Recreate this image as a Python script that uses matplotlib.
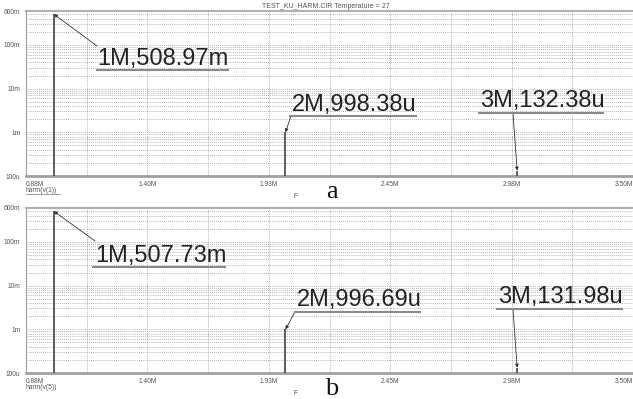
import matplotlib.pyplot as plt
import numpy as np
from matplotlib.lines import Line2D
from matplotlib.ticker import LogLocator, NullFormatter

freq = [1e6, 2e6, 3e6]
mag_a = [508.97e-3, 998.38e-6, 132.38e-6]
mag_b = [507.73e-3, 996.69e-6, 131.98e-6]
labels_a = ['1M,508.97m', '2M,998.38u', '3M,132.38u']
labels_b = ['1M,507.73m', '2M,996.69u', '3M,131.98u']
xtick_labels = ['0.88M', '1.40M', '1.93M', '2.45M', '2.98M', '3.50M']
ytick_vals = [100e-6, 1e-3, 10e-3, 100e-3, 600e-3]
ytick_labels = ['100u', '1m', '10m', '100m', '600m']
trace_names = ['harm(v(1))', 'harm(v(5))']
panel_names = ['a', 'b']
title = 'TEST_KU_HARM.CIR Temperature = 27'

x_lo, x_hi = 0.88e6, 3.5e6
y_lo, y_hi = 100e-6, 600e-3

W, H = 633, 399
fig = plt.figure(figsize=(W / 100, H / 100), dpi=100)
plt.rcParams['font.family'] = ['Liberation Sans', 'DejaVu Sans']

# panel boxes in pixels: left, top, right, bottom
boxes = [(26, 11, 633, 176), (26, 208, 633, 373)]
# annotation layout per panel: text x, baseline y, underline x0, x1, y, arrow start x, y
notes = [
    [(97, 65, 97, 228, 70, 97, 46),
     (292, 111, 290, 416, 116, 291, 116),
     (480, 107, 479, 603, 113, 513, 113)],
    [(95, 262, 93, 225, 267, 95, 241),
     (297, 306, 295, 420, 312, 295, 312),
     (498, 303, 497, 622, 309, 513, 309)],
]


def fline(xs, ys, **kw):
    fig.add_artist(Line2D([x / W for x in xs], [1 - y / H for y in ys],
                          transform=fig.transFigure, **kw))


for i, (mags, labs) in enumerate([(mag_a, labels_a), (mag_b, labels_b)]):
    l, t, r, b = boxes[i]
    ax = fig.add_axes([l / W, 1 - b / H, (r - l) / W, (b - t) / H])
    ax.set_yscale('log')
    ax.set_xlim(x_lo, x_hi)
    ax.set_ylim(y_lo, y_hi)
    ax.vlines(freq, y_lo, mags, color='#505050', lw=1.3, zorder=3)

    xt = np.linspace(x_lo, x_hi, 11)
    ax.set_xticks(xt)
    ax.set_xticklabels(['' for _ in xt])
    for k, lab in enumerate(xtick_labels):
        ha = 'left' if k == 0 else ('right' if k == len(xtick_labels) - 1 else 'center')
        ax.text(xt[2 * k], -0.03, lab, transform=ax.get_xaxis_transform(),
                ha=ha, va='top', fontsize=4.8, color='#555555')
    ax.set_yticks(ytick_vals)
    ax.set_yticklabels(ytick_labels)
    ax.yaxis.set_minor_locator(LogLocator(base=10, subs=np.arange(2, 10)))
    ax.yaxis.set_minor_formatter(NullFormatter())
    ax.tick_params(axis='both', which='both', length=0, labelsize=4.8,
                   labelcolor='#555555', pad=4)
    ax.grid(True, which='both', axis='y', ls=(0, (1, 1.5)), color='#9a9a9a', lw=0.6)
    ax.grid(True, which='major', axis='x', ls=(0, (1, 1.5)), color='#9a9a9a', lw=0.6)
    for s in ['right']:
        ax.spines[s].set_visible(False)
    ax.spines['top'].set_color('#b0b0b0')
    ax.spines['top'].set_linewidth(1.5)
    ax.spines['left'].set_color('#a0a0a0')
    ax.spines['bottom'].set_color('#a0a0a0')
    ax.spines['bottom'].set_linewidth(2)

    for j, (tx, ty, u0, u1, uy, sx, sy) in enumerate(notes[i]):
        ax.annotate(labs[j], xy=(tx, H - ty), xycoords='figure pixels',
                    ha='left', va='baseline', fontsize=17, color='#222222')
        fline([u0, u1], [uy, uy], color='#8a8a8a', lw=1.5)
        ax.annotate('', xy=(freq[j], mags[j]), xycoords='data',
                    xytext=(sx, H - sy), textcoords='figure pixels',
                    arrowprops=dict(arrowstyle='-|>', color='#333333', lw=0.6,
                                    mutation_scale=5, shrinkA=0, shrinkB=0))

    fig.text(26 / W, 1 - (b + 16) / H, trace_names[i], fontsize=4.8,
             color='#555555', ha='left', va='baseline')
    if i == 0:
        fline([26, 60], [b + 17.5, b + 17.5], color='#777777', lw=0.5)
    fig.text(296 / W, 1 - (b + 22) / H, 'F', fontsize=4.8, color='#555555',
             ha='center', va='baseline')
    fig.text(332 / W, 1 - (b + 22) / H, panel_names[i], fontsize=19,
             family=['Liberation Serif', 'DejaVu Serif'], color='#111111',
             ha='center', va='baseline')

fig.text(326 / W, 1 - 8 / H, title, fontsize=5, color='#555555',
         ha='center', va='baseline')

fig.savefig('out.png', dpi=100)
